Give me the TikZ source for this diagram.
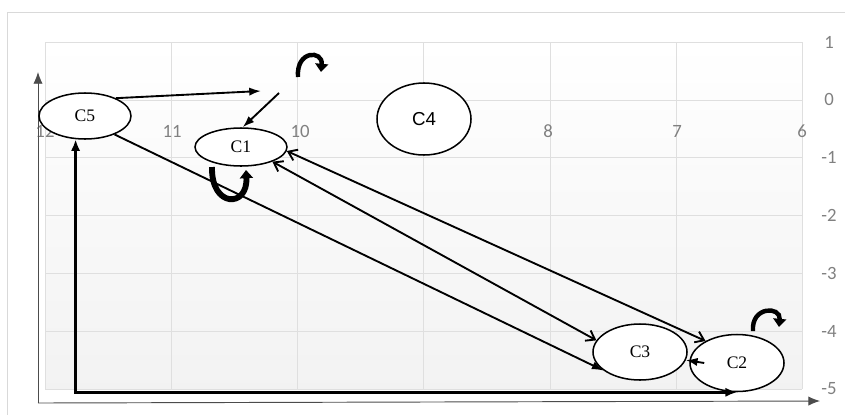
\documentclass[tikz,border=0pt]{standalone}
\usepackage{fontspec}
\setmainfont{Liberation Serif}
\newfontfamily\sansC{Liberation Sans}
\newfontfamily\tickfont{Carlito}
\usetikzlibrary{arrows.meta,shapes.geometric}

\begin{document}
\begin{tikzpicture}[x=0.03cm,y=-0.03cm,
    state/.style={ellipse, draw, line width=1.3pt, fill=white, inner sep=0pt, font=\fontsize{15}{17}\selectfont},
    tick/.style={text=gray, font=\tickfont\fontsize{16}{18}\selectfont},
    link/.style={line width=1.6pt},
    both ends/.style={link, {Straight Barb[length=7pt,width=10pt]}-{Straight Barb[length=7pt,width=10pt]}},
    one end/.style={link, -{Latex[length=10pt,width=7pt]}},
    turn/.style={line width=3.8pt, -{Triangle[length=7pt,width=11pt]}}]

    \useasboundingbox (0,0) rectangle (845,414);
    \draw[gray!30] (7,12) rectangle (850,420);

    % fundo e grade
    \shade[top color=white, bottom color=gray!10] (45,42) rectangle (802,389);
    \foreach \k in {0,...,6}{
        \draw[gray!25] (45,42+57.8*\k) -- (802,42+57.8*\k);
        \draw[gray!25] (45+126.2*\k,42) -- (45+126.2*\k,389);
    }
    \foreach \v/\x in {12/45,11/172,10/300,8/548,7/677,6/802}
        \node[tick] (x\v) at (\x,131) {\v};
    \foreach \v [count=\i from 0] in {1,0,-1,-2,-3,-4,-5}
        \node[tick] (y\i) at (829,42+57.8*\i) {\v};

    % eixos
    \coordinate (O) at (38,403);
    \coordinate (ytop) at (38,72);
    \coordinate (xend) at (820,401);
    \draw[black!70, line width=0.8pt, -{Latex[length=10pt,width=8pt]}] (O) -- (ytop);
    \draw[black!70, line width=0.8pt, -{Latex[length=10pt,width=8pt]}] (O) -- (xend);

    % estados
    \node[state, minimum width=2.76cm, minimum height=1.38cm] (C5) at (85,116) {C5};
    \node[state, minimum width=2.76cm, minimum height=1.14cm] (C1) at (241,147) {C1};
    \node[state, minimum width=2.82cm, minimum height=2.16cm, font=\sansC\fontsize{16}{18}\selectfont] (C4) at (424,119) {C4};
    \node[state, minimum width=2.82cm, minimum height=1.68cm] (C3) at (640,352) {C3};
    \node[state, minimum width=2.82cm, minimum height=1.71cm] (C2) at (737,363) {C2};

    % ligacoes
    \coordinate (a1) at (261,91);
    \coordinate (a2) at (279,93);
    \draw[one end] (C5.30) -- (a1);
    \draw[one end] (a2) -- (C1.85);
    \draw[one end] (C5.-32) -- (C3.207);
    \draw[both ends] (C1.-25) -- (C3.165);
    \draw[both ends] (C1.-5) -- (C2.145);
    \draw[one end] ([xshift=0.45cm]C2.west) -- (C3.-10);
    \draw[line width=2.4pt, {Latex[length=10pt,width=8pt]}-{Latex[length=10pt,width=8pt]}] (C5.-112) |- (C2.south);

    % voltas
    \draw[turn] (298,77) .. controls (296,50) and (323,50) .. (321,72);
    \draw[turn] (753,331) .. controls (751,306) and (781,306) .. (779,327);
    \draw[turn, line width=5pt] (212,167) .. controls (211,208) and (248,208) .. (246,170);

\end{tikzpicture}
\end{document}
